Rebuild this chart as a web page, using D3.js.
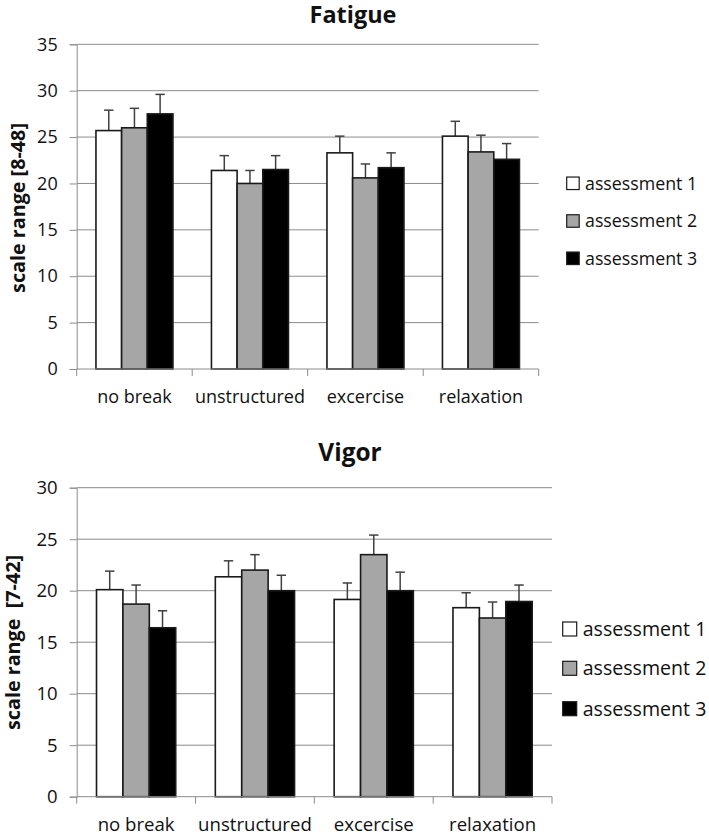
<!DOCTYPE html>
<html><head><meta charset="utf-8">
<script src="https://cdn.jsdelivr.net/npm/d3@7"></script>
<style>
html,body{margin:0;padding:0;background:#fff;}
svg{display:block;font-family:"Open Sans", Lato, sans-serif;}
</style></head>
<body>
<svg id="chart" width="709" height="834"></svg>
<script>
const categories = ["no break", "unstructured", "excercise", "relaxation"];
const seriesNames = ["assessment 1", "assessment 2", "assessment 3"];
const seriesColors = ["#ffffff", "#a6a6a6", "#000000"];

// Fatigue means and error (upper) per series
const fatigueA1 = [25.7, 21.4, 23.3, 25.1];
const fatigueA2 = [26.0, 20.0, 20.6, 23.4];
const fatigueA3 = [27.5, 21.5, 21.7, 22.6];
const fatigueErr1 = [2.2, 1.6, 1.8, 1.6];
const fatigueErr2 = [2.1, 1.4, 1.5, 1.8];
const fatigueErr3 = [2.1, 1.5, 1.6, 1.7];
const fatigueTicks = [0, 5, 10, 15, 20, 25, 30, 35];

// Vigor means and error
const vigorA1 = [20.1, 21.35, 19.15, 18.35];
const vigorA2 = [18.7, 22.0, 23.5, 17.35];
const vigorA3 = [16.4, 20.0, 20.0, 18.95];
const vigorErr1 = [1.8, 1.55, 1.6, 1.45];
const vigorErr2 = [1.85, 1.5, 1.9, 1.55];
const vigorErr3 = [1.65, 1.5, 1.8, 1.6];
const vigorTicks = [0, 5, 10, 15, 20, 25, 30];

const svg = d3.select("#chart");
const FONT = "'Open Sans', Lato, sans-serif";

// scale a text's font-size so that it has the given width
function fitWidth(sel, w) {
  sel.each(function() {
    const fs = parseFloat(this.getAttribute("font-size"));
    const len = this.getComputedTextLength();
    if (len > 0) this.setAttribute("font-size", (fs * w / len).toFixed(2));
  });
}

function drawPanel(opt) {
  const g = svg.append("g");
  const {left, right, top, bottom} = opt;
  const y = d3.scaleLinear().domain([0, opt.ticks[opt.ticks.length - 1]]).range([bottom, top]);
  const x0 = d3.scaleBand().domain(categories).range([left, right]).paddingInner(0).paddingOuter(0);
  const x1 = d3.scaleBand().domain(seriesNames).range([0, x0.bandwidth()]).paddingInner(0).paddingOuter(0.75);

  // gridlines
  g.append("g").selectAll("line").data(opt.ticks.slice(1)).join("line")
    .attr("x1", left).attr("x2", right)
    .attr("y1", d => y(d)).attr("y2", d => y(d))
    .attr("stroke", "#8c8c8c").attr("stroke-width", 1);

  // y axis
  const ya = g.append("g").attr("transform", `translate(${left},0)`)
    .call(d3.axisLeft(y).tickValues(opt.ticks).tickSize(7).tickPadding(opt.tickPad).tickFormat(d3.format("d")));
  ya.select(".domain").attr("stroke", "#8c8c8c").attr("stroke-width", 1);
  ya.selectAll(".tick line").attr("stroke", "#8c8c8c");
  ya.selectAll(".tick text").attr("font-size", opt.tickFont).attr("fill", "#111")
    .attr("font-family", FONT);

  // bars
  const data = [];
  categories.forEach((c, i) => {
    seriesNames.forEach((s, j) => {
      data.push({c, s, j, v: opt.means[j][i], e: opt.errs[j][i]});
    });
  });
  const eb = g.append("g");
  eb.selectAll("g").data(data).join("g").each(function(d) {
    const cx = x0(d.c) + x1(d.s) + x1.bandwidth() / 2;
    const sel = d3.select(this);
    sel.append("line").attr("x1", cx).attr("x2", cx)
      .attr("y1", y(d.v)).attr("y2", y(d.v + d.e))
      .attr("stroke", "#404040").attr("stroke-width", 1.5);
    sel.append("line").attr("x1", cx - 4.7).attr("x2", cx + 4.7)
      .attr("y1", y(d.v + d.e)).attr("y2", y(d.v + d.e))
      .attr("stroke", "#404040").attr("stroke-width", 1.5);
  });
  g.append("g").selectAll("rect").data(data).join("rect")
    .attr("x", d => x0(d.c) + x1(d.s))
    .attr("width", x1.bandwidth())
    .attr("y", d => y(d.v))
    .attr("height", d => bottom - y(d.v))
    .attr("fill", d => seriesColors[d.j])
    .attr("stroke", "#1a1a1a").attr("stroke-width", 1.6);

  // x axis
  g.append("line").attr("x1", left).attr("x2", right).attr("y1", bottom).attr("y2", bottom)
    .attr("stroke", "#8c8c8c").attr("stroke-width", 1);
  const bounds = categories.map(c => x0(c)).concat([right]);
  g.append("g").selectAll("line").data(bounds).join("line")
    .attr("x1", d => d).attr("x2", d => d).attr("y1", bottom).attr("y2", bottom + 7)
    .attr("stroke", "#8c8c8c");
  g.append("g").selectAll("text").data(categories).join("text")
    .attr("x", d => x0(d) + x0.bandwidth() / 2)
    .attr("y", opt.xLabelY)
    .attr("text-anchor", "middle")
    .attr("font-size", opt.xFont).attr("fill", "#111")
    .text(d => d);

  // title
  const t = g.append("text").attr("x", opt.titleX).attr("y", opt.titleY)
    .attr("text-anchor", "middle").attr("font-weight", "bold")
    .attr("font-size", 20).attr("fill", "#111").text(opt.title);
  fitWidth(t, opt.titleW);

  // y title
  const yt = g.append("text")
    .attr("transform", `translate(${opt.yTitleX},${opt.yTitleY}) rotate(-90)`)
    .attr("text-anchor", "middle").attr("font-weight", "bold")
    .attr("font-size", 18).attr("fill", "#111")
    .attr("dy", "0.35em")
    .style("white-space", "pre")
    .text(opt.yTitle);
  fitWidth(yt, opt.yTitleW);

  // legend
  const lg = g.append("g");
  seriesNames.forEach((s, j) => {
    const cy = opt.legendY[j];
    lg.append("rect").attr("x", opt.legendX).attr("y", cy - opt.legendBox / 2)
      .attr("width", opt.legendBox).attr("height", opt.legendBox)
      .attr("fill", seriesColors[j]).attr("stroke", "#1a1a1a").attr("stroke-width", 1.2);
    lg.append("text").attr("x", opt.legendTextX).attr("y", cy)
      .attr("dy", "0.36em").attr("font-size", opt.legendFont).attr("fill", "#111").text(s);
  });
}

drawPanel({
  title: "Fatigue", titleX: 353, titleY: 23, titleW: 87,
  left: 76.7, right: 538.7, top: 44.3, bottom: 369,
  ticks: fatigueTicks, tickFont: 18, tickPad: 12,
  means: [fatigueA1, fatigueA2, fatigueA3], errs: [fatigueErr1, fatigueErr2, fatigueErr3],
  xLabelY: 402.5, xFont: 18,
  yTitle: "scale range [8-48]", yTitleX: 18.3, yTitleY: 208, yTitleW: 170,
  legendX: 566.7, legendBox: 12.5, legendTextX: 585, legendY: [183.3, 221, 258.3], legendFont: 17.8
});

drawPanel({
  title: "Vigor", titleX: 350, titleY: 461, titleW: 63.4,
  left: 76.7, right: 552, top: 487.7, bottom: 796.7,
  ticks: vigorTicks, tickFont: 18.5, tickPad: 12,
  means: [vigorA1, vigorA2, vigorA3], errs: [vigorErr1, vigorErr2, vigorErr3],
  xLabelY: 831, xFont: 18.6,
  yTitle: "scale range  [7-42]", yTitleX: 13.3, yTitleY: 642.5, yTitleW: 175,
  legendX: 562.7, legendBox: 14, legendTextX: 582.7, legendY: [629, 668.3, 708.7], legendFont: 19.6
});
</script>
</body></html>
